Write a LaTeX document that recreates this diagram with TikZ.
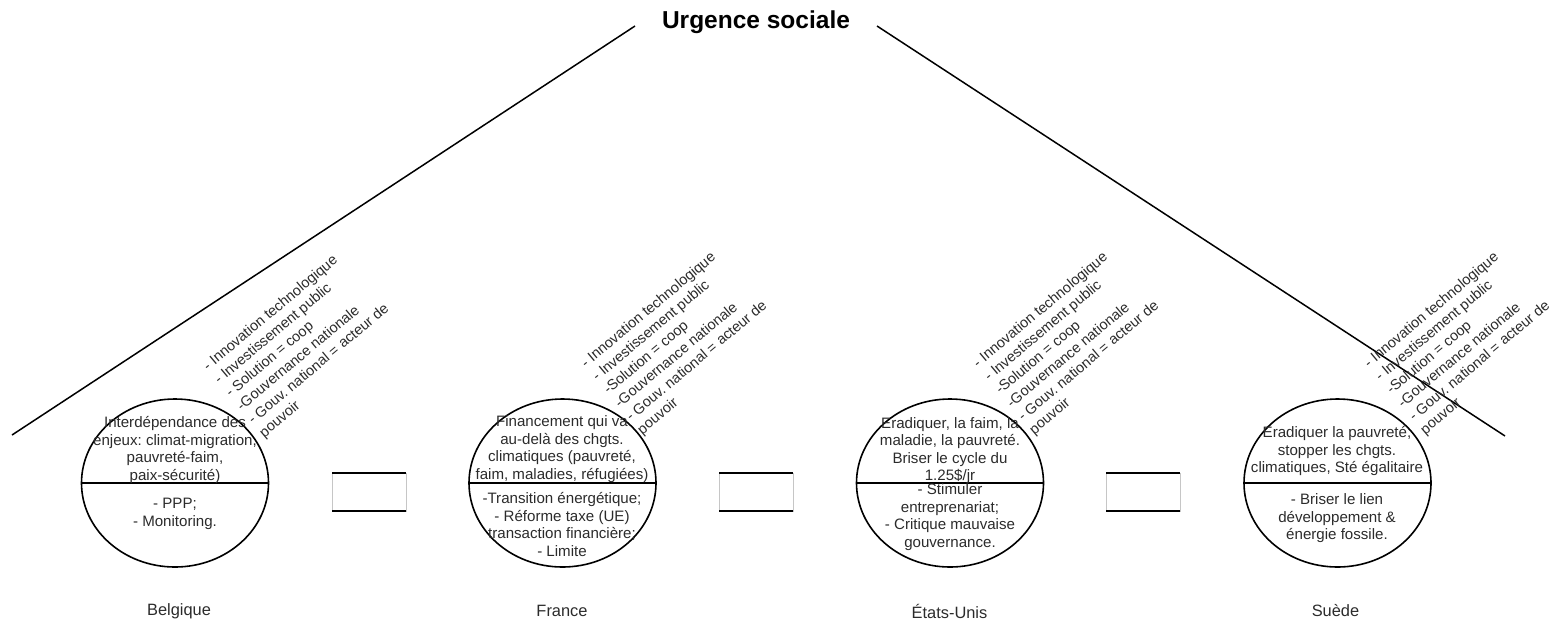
\documentclass[tikz,border=0pt]{standalone}
\usepackage{fontspec}
\setmainfont{Liberation Sans}
\frenchspacing
\usetikzlibrary{shapes.geometric}
\definecolor{inkgray}{HTML}{2B2B2B}
\tikzstyle{country} = [ellipse, minimum width=187pt, minimum height=168pt, inner sep=0pt, outer sep=0pt, draw=black, line width=1.6pt]
\tikzstyle{infotext} = [align=center, inner sep=0pt, text=inkgray, font=\fontsize{15.1}{17.5}\selectfont]
\tikzstyle{pillars} = [align=left, rotate=40, anchor=north west, inner sep=0pt, text=inkgray, font=\fontsize{14.5}{17.5}\selectfont]
\tikzstyle{gapbox} = [rectangle, minimum width=74pt, minimum height=38pt, outer sep=0pt, draw=gray!45, line width=0.5pt]
\tikzstyle{countryname} = [inner sep=0pt, text=inkgray, font=\fontsize{16.4}{19}\selectfont]
\tikzstyle{edge} = [line width=1.8pt]
\tikzstyle{roof} = [line width=1.5pt]
\newcommand{\piliers}[1]{- Innovation technologique\\- Investissement public\\#1\\-Gouvernance nationale\\- Gouv. national = acteur de\\pouvoir}

\begin{document}
\begin{tikzpicture}[x=1pt, y=-1pt, node distance=387.5pt]
\useasboundingbox (0,0) rectangle (1549,622);
\node (title) [font=\bfseries\fontsize{24.5}{28}\selectfont] at (756,22) {Urgence sociale};
\coordinate (roofLlow) at (12,435);
\coordinate (roofLtop) at (635,26);
\coordinate (roofRtop) at (877,26);
\coordinate (roofRlow) at (1505,436);
\draw[roof] (roofLlow) -- (roofLtop);
\draw[roof] (roofRtop) -- (roofRlow);

\node (bel) [country] at (175,483) {};
\node (fra) [country, right of=bel] {};
\node (usa) [country, right of=fra] {};
\node (swe) [country, right of=usa] {};
\draw[edge] (bel.west) -- (bel.east);
\draw[edge] (fra.west) -- (fra.east);
\draw[edge] (usa.west) -- (usa.east);
\draw[edge] (swe.west) -- (swe.east);

\node (belTop) [infotext] at (175,450) {Interdépendance des\\enjeux: climat-migration,\\pauvreté-faim,\\paix-sécurité)};
\node (belBot) [infotext] at (175,514) {- PPP;\\- Monitoring.};
\node (fraTop) [infotext] at (562,449) {Financement qui va\\au-delà des chgts.\\climatiques (pauvreté,\\faim, maladies, réfugiées)};
\node (fraBot) [infotext] at (562,524.5) {-Transition énergétique;\\- Réforme taxe (UE)\\transaction financière;\\- Limite};
\node (usaTop) [infotext] at (950,450.5) {Eradiquer, la faim, la\\maladie, la pauvreté.\\Briser le cycle du\\1.25\$/jr};
\node (usaBot) [infotext] at (950,517) {- Stimuler\\entreprenariat;\\- Critique mauvaise\\gouvernance.};
\node (sweTop) [infotext] at (1337,451) {Eradiquer la pauvreté,\\stopper les chgts.\\climatiques, Sté égalitaire};
\node (sweBot) [infotext] at (1337,518.5) {- Briser le lien\\développement \&\\énergie fossile.};

\node (belPil) [pillars] at (201,363) {\piliers{- Solution = coop}};
\node (fraPil) [pillars] at (579,360) {\piliers{-Solution = coop}};
\node (usaPil) [pillars] at (971,360) {\piliers{-Solution = coop}};
\node (swePil) [pillars] at (1362,360) {\piliers{-Solution = coop}};

\node (gapA) [gapbox] at (369,492) {};
\node (gapB) [gapbox] at (756,492) {};
\node (gapC) [gapbox] at (1143,492) {};
\draw[edge] (gapA.north west) -- (gapA.north east);
\draw[edge] (gapA.south west) -- (gapA.south east);
\draw[edge] (gapB.north west) -- (gapB.north east);
\draw[edge] (gapB.south west) -- (gapB.south east);
\draw[edge] (gapC.north west) -- (gapC.north east);
\draw[edge] (gapC.south west) -- (gapC.south east);

\node (belName) [countryname] at (179,611) {Belgique};
\node (fraName) [countryname] at (562,611) {France};
\node (usaName) [countryname] at (949.5,611) {États-Unis};
\node (sweName) [countryname] at (1335.5,611) {Suède};
\end{tikzpicture}
\end{document}
